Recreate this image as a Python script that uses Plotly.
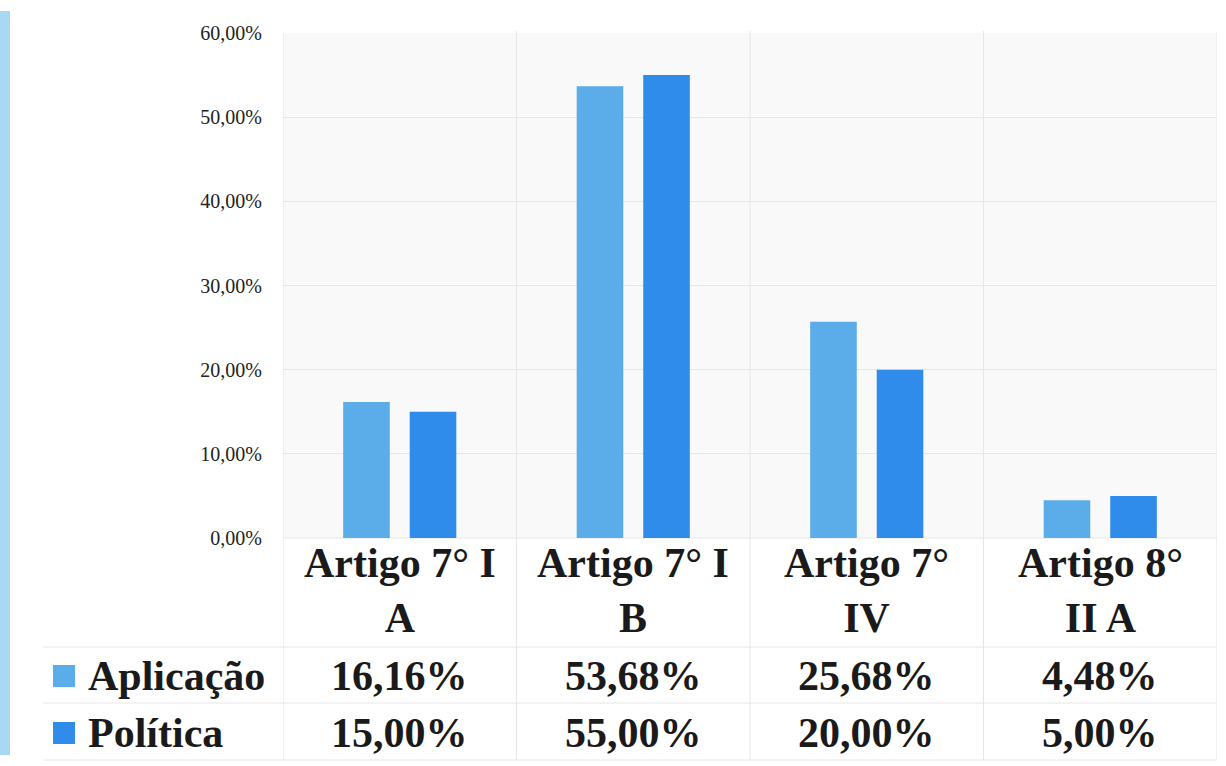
import plotly.graph_objects as go

categories = ["Artigo 7° I A", "Artigo 7° I B", "Artigo 7° IV", "Artigo 8° II A"]
category_labels = ["Artigo 7° I<br>A", "Artigo 7° I<br>B", "Artigo 7°<br>IV", "Artigo 8°<br>II A"]
series_names = ["Aplicação", "Política"]
aplicacao = [16.16, 53.68, 25.68, 4.48]
politica = [15.00, 55.00, 20.00, 5.00]
y_tickvals = [0, 10, 20, 30, 40, 50, 60]
y_ticktext = ["0,00%", "10,00%", "20,00%", "30,00%", "40,00%", "50,00%", "60,00%"]

W, H = 1226, 766
COL_A = "#5AADE8"
COL_P = "#2F8CEA"
BORDER = "#A9D8F4"
GRID = "#E6E6E6"
SERIF = "Liberation Serif, Times New Roman, serif"

# observed rendering: figure appears in a band starting ~11px down, ~744px tall
OFF, HH = 11, 744


def px(x):
    return x / W


def py(y):
    return 1 - (y - OFF) / HH


def fmt(v):
    return f"{v:.2f}".replace(".", ",") + "%"


fig = go.Figure()
fig.add_trace(go.Bar(x=categories, y=aplicacao, name=series_names[0],
                     marker=dict(color=COL_A, line=dict(width=0))))
fig.add_trace(go.Bar(x=categories, y=politica, name=series_names[1],
                     marker=dict(color=COL_P, line=dict(width=0))))

shapes = []
# light blue left border strip
shapes.append(dict(type="rect", xref="paper", yref="paper", x0=0, x1=px(10), y0=0, y1=1,
                   fillcolor=BORDER, line=dict(width=0), layer="above"))

# vertical dividers at category boundaries, running through the table
for i in range(len(categories) + 1):
    shapes.append(dict(type="line", xref="x", yref="paper", x0=i - 0.5, x1=i - 0.5,
                       y0=py(760), y1=py(31), line=dict(color=GRID, width=1), layer="below"))
# horizontal table lines
for yy in [538, 647, 703, 760]:
    shapes.append(dict(type="line", xref="paper", yref="paper", x0=px(43) if yy != 538 else px(283),
                       x1=px(1217), y0=py(yy), y1=py(yy), line=dict(color=GRID, width=1), layer="below"))

# legend keys in table
row_y = [676, 733]
for col, yy in zip([COL_A, COL_P], row_y):
    shapes.append(dict(type="rect", xref="paper", yref="paper", x0=px(53), x1=px(75),
                       y0=py(yy + 11), y1=py(yy - 11), fillcolor=col, line=dict(width=0)))

annotations = []
for cat, lab in zip(categories, category_labels):
    annotations.append(dict(x=cat, xref="x", y=py(590), yref="paper", text=f"<b>{lab}</b>",
                            showarrow=False, xanchor="center", yanchor="middle",
                            font=dict(family=SERIF, size=42, color="#1A1A1A")))
for name, vals, yy in zip(series_names, [aplicacao, politica], row_y):
    annotations.append(dict(x=px(86), xref="paper", y=py(yy), yref="paper", text=f"<b>{name}</b>",
                            showarrow=False, xanchor="left", yanchor="middle",
                            font=dict(family=SERIF, size=42, color="#1A1A1A")))
    for cat, v in zip(categories, vals):
        annotations.append(dict(x=cat, xref="x", y=py(yy), yref="paper", text=f"<b>{fmt(v)}</b>",
                                showarrow=False, xanchor="center", yanchor="middle",
                                font=dict(family=SERIF, size=42, color="#1A1A1A")))

fig.update_layout(
    width=W, height=H,
    margin=dict(l=0, r=0, t=0, b=0),
    paper_bgcolor="#FFFFFF",
    plot_bgcolor="#F9F9F9",
    barmode="group",
    bargap=0.43,
    bargroupgap=0.3,
    showlegend=False,
    shapes=shapes,
    annotations=annotations,
    xaxis=dict(domain=[px(283), px(1217)], type="category", range=[-0.5, 3.5],
               showticklabels=False, showgrid=False, zeroline=False, showline=False, ticks=""),
    yaxis=dict(domain=[py(538), py(33)], range=[0, 60], tickvals=y_tickvals, ticktext=y_ticktext,
               showgrid=True, gridcolor=GRID, gridwidth=1, zeroline=False, showline=False,
               ticks="", ticklabelstandoff=20,
               tickfont=dict(family=SERIF, size=20, color="#222222")),
)

fig.write_html(
    "out.html",
    config={"displayModeBar": False},
    post_script=(
        "document.documentElement.style.background='linear-gradient(#A9D8F4 0 50%, #FFFFFF 50% 100%)';"
        "document.body.style.background='transparent';"
        "document.body.style.margin='0';document.body.style.overflow='hidden';"
    ),
)
